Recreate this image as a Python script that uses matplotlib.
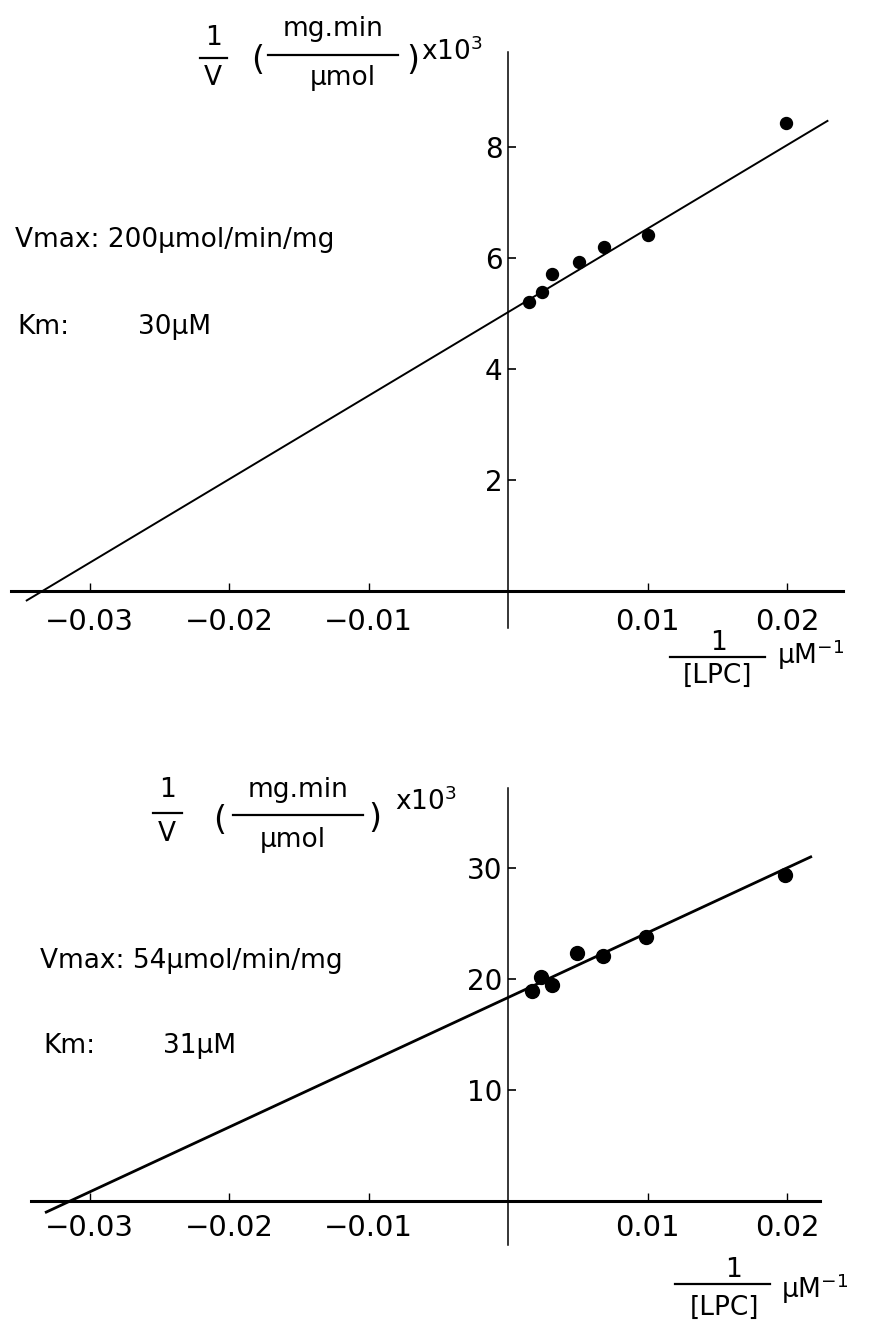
import numpy as np
import matplotlib
matplotlib.use("Agg")
import matplotlib.pyplot as plt
from matplotlib.lines import Line2D

# ---- data ----
# top panel: Vmax 200 umol/min/mg, Km 30 uM
inv_s_top = [0.00153, 0.00244, 0.00315, 0.00507, 0.00686, 0.0100, 0.0199]
inv_v_top = [5.20, 5.38, 5.72, 5.92, 6.20, 6.41, 8.44]
fit_x_top = [-0.0345, 0.0229]
fit_y_top = [-0.17, 8.47]
yticks_top = [2, 4, 6, 8]

# bottom panel: Vmax 54 umol/min/mg, Km 31 uM
inv_s_bot = [0.00174, 0.00239, 0.00315, 0.00495, 0.00681, 0.00987, 0.01988]
inv_v_bot = [18.9, 20.2, 19.5, 22.3, 22.1, 23.8, 29.4]
fit_x_bot = [-0.0331, 0.0217]
fit_y_bot = [-1.0, 31.0]
yticks_bot = [10, 20, 30]

xticks = [-0.03, -0.02, -0.01, 0.01, 0.02]
xticklabels = ["\u22120.03", "\u22120.02", "\u22120.01", "0.01", "0.02"]

W, H = 871, 1327
fig = plt.figure(figsize=(W / 100, H / 100), dpi=100)
fig.patch.set_facecolor("white")


def fxy(px, py):
    return px / W, 1 - py / H


def make_axes(box, origin, scale):
    # box in pixels (x0, ytop, x1, ybottom), origin pixel of (0,0), px per unit
    x0, yt, x1, yb = box
    ox, oy = origin
    sx, sy = scale
    ax = fig.add_axes([x0 / W, 1 - yb / H, (x1 - x0) / W, (yb - yt) / H])
    ax.set_xlim((x0 - ox) / sx, (x1 - ox) / sx)
    ax.set_ylim((oy - yb) / sy, (oy - yt) / sy)
    ax.patch.set_alpha(0)
    for s in ["top", "right"]:
        ax.spines[s].set_visible(False)
    ax.spines["left"].set_position(("data", 0))
    ax.spines["bottom"].set_position(("data", 0))
    return ax


def text(px, py, s, size=19, ha="center", va="center"):
    x, y = fxy(px, py)
    fig.text(x, y, s, fontsize=size, ha=ha, va=va, color="black")


def hbar(px0, px1, py, lw=1.6):
    x0, y = fxy(px0, py)
    x1, _ = fxy(px1, py)
    fig.add_artist(Line2D([x0, x1], [y, y], color="black", lw=lw,
                          transform=fig.transFigure))


def style(ax, yticks, xbounds, ybounds, xpad):
    ax.spines["bottom"].set_bounds(*xbounds)
    ax.spines["left"].set_bounds(*ybounds)
    ax.spines["bottom"].set_linewidth(2.2)
    ax.spines["left"].set_linewidth(1.1)
    ax.set_xticks(xticks)
    ax.set_xticklabels(xticklabels)
    ax.set_yticks(yticks)
    ax.set_yticklabels([str(t) for t in yticks])
    ax.tick_params(axis="x", direction="in", length=6, width=1.0,
                   labelsize=21, pad=xpad)
    ax.tick_params(axis="y", direction="in", length=6, width=1.2,
                   labelsize=20, pad=4)


# ---- top panel ----
ax1 = make_axes((0, 0, W, 700), (508, 591), (13950, 55.5))
ax1.plot(fit_x_top, fit_y_top, color="black", lw=1.4)
ax1.plot(inv_s_top, inv_v_top, "o", color="black", ms=8.6)
style(ax1, yticks_top, (-0.0356, 0.024), (-0.67, 9.71), 12)

# ---- bottom panel ----
ax2 = make_axes((0, 720, W, H), (508, 1201), (13950, 11.1))
ax2.plot(fit_x_bot, fit_y_bot, color="black", lw=2.0)
ax2.plot(inv_s_bot, inv_v_bot, "o", color="black", ms=10)
style(ax2, yticks_bot, (-0.0342, 0.0224), (-4.0, 37.2), 9)

# ---- y-axis labels ----
# top
text(213, 38, "1", 19)
hbar(200, 227, 58)
text(213, 78, "V", 19)
text(258, 60, "(", 24)
text(333, 29, "mg.min", 19)
hbar(268, 398, 55)
text(343, 78, "\u00b5mol", 19)
text(413, 60, ")", 24)
text(421, 52, "x10$^3$", 19, ha="left")
# bottom
text(167, 790, "1", 19)
hbar(153, 182, 813)
text(167, 834, "V", 19)
text(220, 820, "(", 24)
text(298, 790, "mg.min", 19)
hbar(233, 363, 815)
text(293, 840, "\u00b5mol", 19)
text(375, 819, ")", 24)
text(395, 802, "x10$^3$", 19, ha="left")

# ---- x-axis labels ----
text(718, 643, "1", 19)
hbar(670, 765, 657)
text(717, 676, "[LPC]", 19)
text(777, 655, "\u00b5M$^{-1}$", 19, ha="left")

text(733, 1270, "1", 19)
hbar(675, 770, 1284)
text(724, 1308, "[LPC]", 19)
text(781, 1289, "\u00b5M$^{-1}$", 19, ha="left")

# ---- kinetic constants ----
text(15, 240, "Vmax: 200\u00b5mol/min/mg", 19, ha="left")
text(17, 327, "Km:", 19, ha="left")
text(138, 327, "30\u00b5M", 19, ha="left")

text(40, 961, "Vmax: 54\u00b5mol/min/mg", 19, ha="left")
text(43, 1046, "Km:", 19, ha="left")
text(163, 1046, "31\u00b5M", 19, ha="left")

fig.savefig("out.png", dpi=100)
